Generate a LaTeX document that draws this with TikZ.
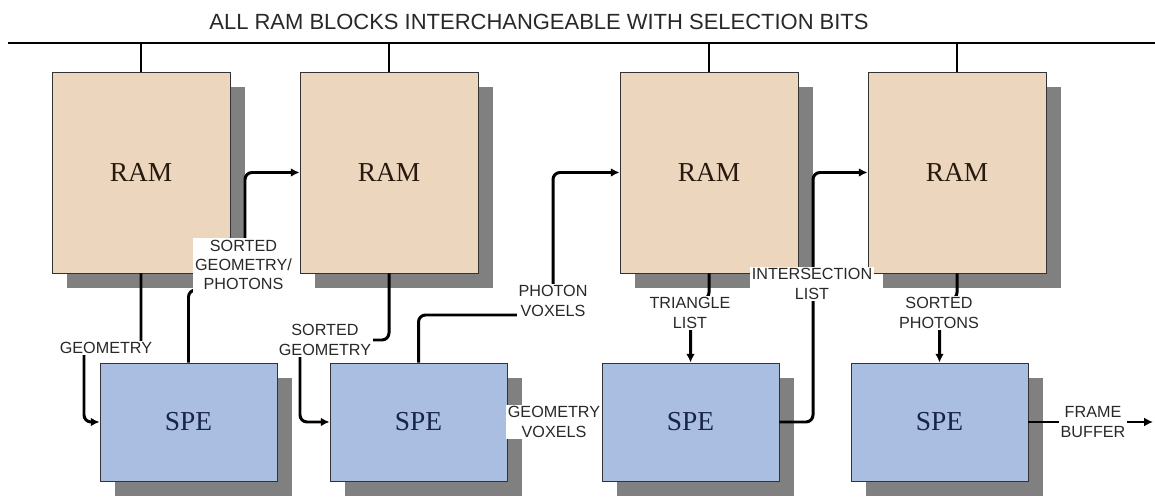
\documentclass[tikz,border=0pt]{standalone}
\usepackage{fontspec}
\setmainfont{Liberation Serif}
\newfontfamily\lblfont{Liberation Sans}
\usetikzlibrary{shadows,arrows.meta}
\definecolor{ramfill}{RGB}{237,214,190}
\definecolor{spefill}{RGB}{169,190,224}
\definecolor{shadowgray}{RGB}{128,128,128}
\definecolor{lblgray}{RGB}{40,40,40}
\definecolor{spetext}{RGB}{25,35,75}
\definecolor{ramtext}{RGB}{40,25,15}
\tikzset{
  blk/.style={draw=black!80, line width=0.5pt, inner sep=0pt,
    drop shadow={shadow xshift=0.3cm, shadow yshift=-0.3cm, fill=shadowgray, opacity=1},
    font=\fontsize{15.6}{18}\selectfont},
  ram/.style={blk, fill=ramfill, text=ramtext, minimum width=3.56cm, minimum height=4.02cm},
  spe/.style={blk, fill=spefill, text=spetext, minimum width=3.54cm, minimum height=2.36cm},
  conn/.style={line width=1.7pt, rounded corners=4pt, -{Latex[length=5pt,width=5pt]}},
  lbl/.style={fill=white, inner sep=1pt, align=center, text=lblgray,
    font=\lblfont\fontsize{9.2}{11}\selectfont},
}
\begin{document}
\begin{tikzpicture}
\useasboundingbox (0,0) rectangle (23.1,9.96);
\node[text=lblgray, font=\lblfont\fontsize{12.5}{14}\selectfont] (title) at (10.78,9.52) {ALL RAM BLOCKS INTERCHANGEABLE WITH SELECTION BITS};
\coordinate (busl) at (0.16,9.1);
\coordinate (busr) at (23.1,9.1);
\draw[line width=1.1pt] (busl) -- (busr);
\node[ram] (ram1) at (2.82,6.51) {RAM};
\node[ram] (ram2) at (7.78,6.51) {RAM};
\node[ram] (ram3) at (14.18,6.51) {RAM};
\node[ram] (ram4) at (19.14,6.51) {RAM};
\node[spe] (spe1) at (3.77,1.52) {SPE};
\node[spe] (spe2) at (8.37,1.52) {SPE};
\node[spe] (spe3) at (13.81,1.52) {SPE};
\node[spe] (spe4) at (18.79,1.52) {SPE};
\foreach \r in {ram1,ram2,ram3,ram4}
  \draw[line width=0.7pt] (\r.north) -- (\r.north |- busl);
\draw[conn] (ram1.south) |- (1.68,3.0) |- (spe1.west);
\draw[conn] (spe1.north) |- (4.9,4.16) |- (ram2.west);
\draw[conn] (ram2.south) |- (6.0,3.16) |- (spe2.west);
\draw[conn] (spe2.north) |- (11.06,3.66) |- (ram3.west);
\draw[conn] (ram3.south) -- ++(0,-0.52) -| (spe3.north);
\draw[conn] (spe3.east) -| (16.26,4) |- (ram4.west);
\draw[conn] (ram4.south) -- ++(0,-0.52) -| (spe4.north);
\coordinate (fbout) at (23.06,1.52);
\draw[conn] (spe4.east) -- (fbout);
\node[lbl] (lgeo) at (2.12,3.0) {GEOMETRY};
\node[lbl] (lsgp) at (4.87,4.66) {SORTED\\GEOMETRY/\\PHOTONS};
\node[lbl] (lsg) at (6.5,3.16) {SORTED\\GEOMETRY};
\node[lbl] (lpv) at (11.06,3.94) {PHOTON\\VOXELS};
\node[lbl] (lgv) at (11.08,1.52) {GEOMETRY\\VOXELS};
\node[lbl] (ltl) at (13.8,3.7) {TRIANGLE\\LIST};
\node[lbl] (lil) at (16.24,4.28) {INTERSECTION\\LIST};
\node[lbl] (lsp) at (18.78,3.7) {SORTED\\PHOTONS};
\node[lbl] (lfb) at (21.86,1.52) {FRAME\\BUFFER};
\end{tikzpicture}
\end{document}
